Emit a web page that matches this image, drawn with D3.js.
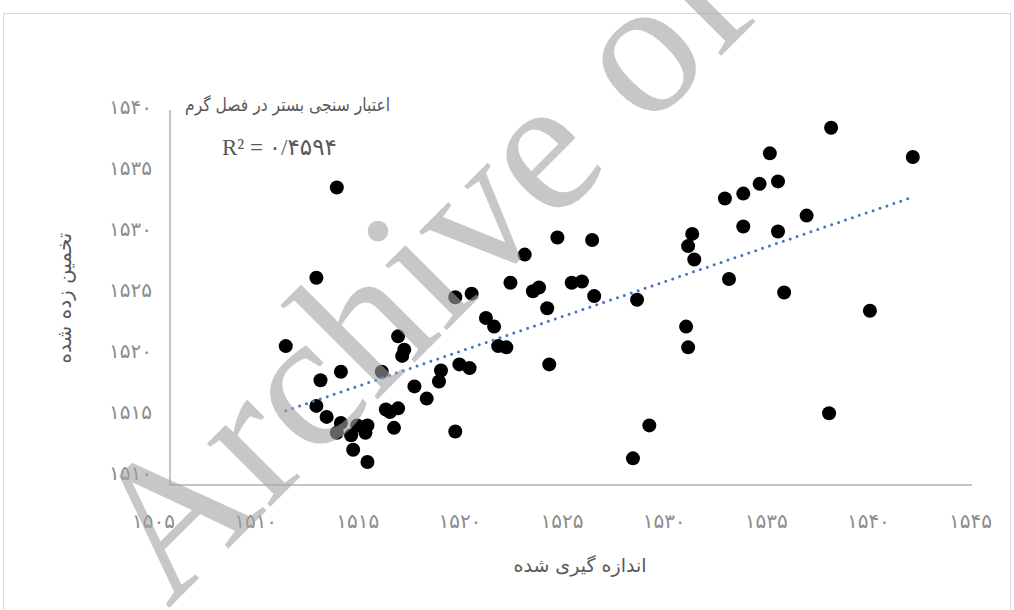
<!DOCTYPE html>
<meta charset="utf-8">
<style>
body {
  margin: 0;
  background: #fff;
}
svg text {
  font-family: "DejaVu Sans", sans-serif;
}
.axis text {
  fill: #8c8c8c;
  font-size: 20px;
}
.label {
  fill: #595959;
  font-size: 19px;
}
</style>
<body>
<script src="https://d3js.org/d3.v7.min.js"></script>
<script>
// measured (x) vs estimated (y)
var measured = [
  1511.5, 1513.0, 1514.0, 1513.2, 1514.2, 1513.0, 1513.5, 1514.2, 1514.0, 1514.7,
  1515.0, 1515.5, 1515.4, 1514.8, 1515.5, 1516.2, 1517.0, 1517.3, 1517.2, 1517.8,
  1516.4, 1517.0, 1516.6, 1516.8, 1518.4, 1519.1, 1519.0, 1519.8, 1519.8, 1520.0,
  1520.5, 1520.6, 1521.3, 1521.7, 1521.9, 1522.3, 1522.5, 1523.2, 1523.6, 1523.9,
  1524.3, 1524.4, 1524.8, 1525.5, 1526.0, 1526.5, 1526.6, 1528.5, 1528.7, 1529.3,
  1531.1, 1531.2, 1531.2, 1531.4, 1531.5, 1533.0, 1533.2, 1533.9, 1533.9, 1534.7,
  1535.2, 1535.6, 1535.6, 1535.9, 1537.0, 1538.1, 1538.2, 1540.1, 1542.2
];
var estimated = [
  1520.4, 1526.0, 1533.4, 1517.6, 1518.3, 1515.5, 1514.6, 1514.1, 1513.3, 1513.1,
  1513.9, 1513.9, 1513.3, 1511.9, 1510.9, 1518.3, 1521.2, 1520.1, 1519.6, 1517.1,
  1515.2, 1515.3, 1515.0, 1513.7, 1516.1, 1518.4, 1517.5, 1524.4, 1513.4, 1518.9,
  1518.6, 1524.7, 1522.7, 1522.0, 1520.4, 1520.3, 1525.6, 1527.9, 1524.9, 1525.2,
  1523.5, 1518.9, 1529.3, 1525.6, 1525.7, 1529.1, 1524.5, 1511.2, 1524.2, 1513.9,
  1522.0, 1520.3, 1528.6, 1529.6, 1527.5, 1532.5, 1525.9, 1530.2, 1532.9, 1533.7,
  1536.2, 1533.9, 1529.8, 1524.8, 1531.1, 1514.9, 1538.3, 1523.3, 1535.9
];
var xTicks = [1505, 1510, 1515, 1520, 1525, 1530, 1535, 1540, 1545];
var yTicks = [1510, 1515, 1520, 1525, 1530, 1535, 1540];
var trendX = [1511.5, 1542.0];
var trendY = [1515.1, 1532.5];

var chartTitle = "اعتبار سنجی بستر در فصل گرم";
var rSquared = "R² = ۰/۴۵۹۴";
var xTitle = "اندازه گیری شده";
var yTitle = "تخمین زده شده";
var watermark = "Archive of SID";

var width = 1014, height = 610;

function fa(n) {
  return String(n).replace(/\d/g, function(d) { return "۰۱۲۳۴۵۶۷۸۹"[d]; });
}

var svg = d3.select("body").append("svg")
  .attr("width", width)
  .attr("height", height);

// chart border
svg.append("rect")
  .attr("x", 3.5).attr("y", 13.5)
  .attr("width", 1007).attr("height", 640)
  .attr("fill", "none")
  .attr("stroke", "#d9d9d9");

var xscale = d3.scaleLinear().domain([1505, 1545]).range([153, 970]);
var yscale = d3.scaleLinear().domain([1510, 1540]).range([473, 107]);

// plot area axis lines
svg.append("path")
  .attr("d", "M170,110V485H972")
  .attr("fill", "none")
  .attr("stroke", "#c4c4c4")
  .attr("stroke-width", 2);

var xAxis = d3.axisBottom(xscale).tickValues(xTicks).tickSize(0).tickPadding(0).tickFormat(fa);
var yAxis = d3.axisLeft(yscale).tickValues(yTicks).tickSize(0).tickPadding(0).tickFormat(fa);

svg.append("g")
  .attr("class", "x axis")
  .attr("transform", "translate(0,514)")
  .call(xAxis)
  .call(function(g) { g.select(".domain").remove(); });

svg.append("g")
  .attr("class", "y axis")
  .attr("transform", "translate(152,0)")
  .call(yAxis)
  .call(function(g) { g.select(".domain").remove(); });

svg.selectAll(".axis text").attr("fill", null).attr("font-size", null).attr("font-family", null);

// points
svg.append("g").selectAll("circle")
  .data(measured)
  .enter().append("circle")
  .attr("cx", function(d) { return xscale(d); })
  .attr("cy", function(d, i) { return yscale(estimated[i]); })
  .attr("r", 7)
  .attr("fill", "#000");

// linear trendline
svg.append("line")
  .attr("x1", xscale(trendX[0])).attr("y1", yscale(trendY[0]))
  .attr("x2", xscale(trendX[1])).attr("y2", yscale(trendY[1]))
  .attr("stroke", "#4472c4")
  .attr("stroke-width", 3)
  .attr("stroke-linecap", "round")
  .attr("stroke-dasharray", "0 7.3");

// texts
svg.append("text")
  .attr("class", "label")
  .attr("x", 390).attr("y", 111)
  .attr("text-anchor", "end")
  .attr("textLength", 205)
  .attr("lengthAdjust", "spacingAndGlyphs")
  .style("font-size", "18px")
  .text(chartTitle);

svg.append("text")
  .attr("x", 222).attr("y", 155)
  .attr("fill", "#595959")
  .style("font-family", "'Liberation Serif', 'DejaVu Sans', serif")
  .style("font-size", "23px")
  .text(rSquared);

svg.append("text")
  .attr("class", "label")
  .attr("x", 580).attr("y", 572)
  .attr("text-anchor", "middle")
  .text(xTitle);

svg.append("text")
  .attr("class", "label")
  .attr("transform", "translate(71,298) rotate(-90)")
  .attr("text-anchor", "middle")
  .style("font-size", "20px")
  .text(yTitle);

// watermark on top
svg.append("text")
  .attr("transform", "translate(168,609) rotate(-45)")
  .attr("fill", "#a3a3a3")
  .attr("opacity", 0.6)
  .style("font-family", "'Liberation Serif', serif")
  .style("font-size", "195px")
  .text(watermark);
</script>
</body>
